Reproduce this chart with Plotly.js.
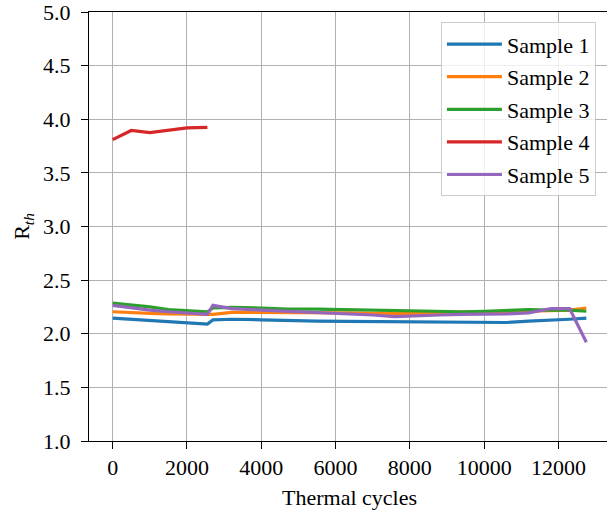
<!DOCTYPE html>
<html>
<head>
<meta charset="utf-8">
<script src="https://cdn.plot.ly/plotly-3.0.1.min.js"></script>
<style>
html, body { margin: 0; padding: 0; overflow: hidden; background: #fff; }
#chart { width: 611px; height: 514px; }
</style>
</head>
<body>
<div id="chart"></div>
<script>
const seriesNames = ["Sample 1", "Sample 2", "Sample 3", "Sample 4", "Sample 5"];
const seriesColors = ["#1f77b4", "#ff7f0e", "#2ca02c", "#d62728", "#9467bd"];

const cycles = [0, 500, 1000, 1500, 2000, 2550, 2700, 3200, 4000, 4700, 5500, 6300, 7000, 7600, 8200, 8800, 9400, 10000, 10600, 11200, 11800, 12300, 12750];
const cyclesS4 = [0, 500, 1000, 1500, 2000, 2550];

const sample1 = [2.145, 2.135, 2.12, 2.11, 2.10, 2.09, 2.13, 2.135, 2.13, 2.122, 2.118, 2.115, 2.113, 2.11, 2.11, 2.108, 2.105, 2.10, 2.105, 2.118, 2.125, 2.135, 2.145];
const sample2 = [2.205, 2.195, 2.19, 2.185, 2.18, 2.175, 2.18, 2.20, 2.20, 2.195, 2.195, 2.195, 2.19, 2.19, 2.19, 2.20, 2.20, 2.205, 2.205, 2.21, 2.215, 2.22, 2.24];
const sample3 = [2.285, 2.27, 2.25, 2.225, 2.215, 2.205, 2.24, 2.245, 2.24, 2.23, 2.23, 2.225, 2.22, 2.215, 2.21, 2.205, 2.205, 2.21, 2.215, 2.225, 2.22, 2.22, 2.21];
const sample4 = [3.81, 3.895, 3.875, 3.895, 3.92, 3.925];
const sample5 = [2.265, 2.24, 2.22, 2.205, 2.195, 2.18, 2.265, 2.235, 2.22, 2.21, 2.20, 2.19, 2.175, 2.16, 2.17, 2.175, 2.18, 2.18, 2.185, 2.195, 2.235, 2.235, 1.92];

const xTicks = [0, 2000, 4000, 6000, 8000, 10000, 12000];
const yTicks = [1.0, 1.5, 2.0, 2.5, 3.0, 3.5, 4.0, 4.5, 5.0];

const xs = [cycles, cycles, cycles, cyclesS4, cycles];
const ys = [sample1, sample2, sample3, sample4, sample5];

const font = "Liberation Serif";
const fs = 22;

const traces = seriesNames.map((n, i) => ({
  type: "scatter",
  mode: "lines",
  name: n,
  legendgroup: "g" + i,
  x: xs[i],
  y: ys[i],
  line: { color: seriesColors[i], width: 3.2 }
}));

const layout = {
  width: 611,
  height: 514,
  margin: { l: 89, r: 1, t: 12, b: 73 },
  paper_bgcolor: "#ffffff",
  plot_bgcolor: "#ffffff",
  font: { family: font, size: fs, color: "#000" },
  showlegend: true,
  legend: {
    x: 0.973, y: 0.976, xanchor: "right", yanchor: "top",
    bgcolor: "rgba(255,255,255,0.8)",
    bordercolor: "#cccccc", borderwidth: 1,
    font: { family: font, size: fs, color: "#000" },
    tracegroupgap: 1,
    itemwidth: 55
  },
  xaxis: {
    range: [-637.5, 13387.5],
    tickvals: xTicks,
    ticktext: xTicks.map(String),
    showgrid: true, gridcolor: "#b0b0b0", gridwidth: 1,
    zeroline: false,
    showline: true, linecolor: "#000", linewidth: 1, mirror: true,
    ticks: "outside", ticklen: 7, tickcolor: "#000",
    tickfont: { family: font, size: fs, color: "#000" },
    ticklabeloverflow: "allow",
    title: { text: "Thermal cycles", font: { family: font, size: fs, color: "#000" }, standoff: 10 }
  },
  yaxis: {
    range: [1.0, 5.0],
    tickvals: yTicks,
    ticktext: yTicks.map(v => v.toFixed(1)),
    showgrid: true, gridcolor: "#b0b0b0", gridwidth: 1,
    zeroline: false,
    showline: true, linecolor: "#000", linewidth: 1, mirror: false,
    ticks: "outside", ticklen: 7, tickcolor: "#000",
    tickfont: { family: font, size: fs, color: "#000" },
    ticklabeloverflow: "allow",
    ticklabelstandoff: 6,
    title: { text: "R<sub><i>th</i></sub>", font: { family: font, size: fs, color: "#000" }, standoff: 7 }
  }
};

Plotly.newPlot("chart", traces, layout, { displayModeBar: false, staticPlot: true });
</script>
</body>
</html>
